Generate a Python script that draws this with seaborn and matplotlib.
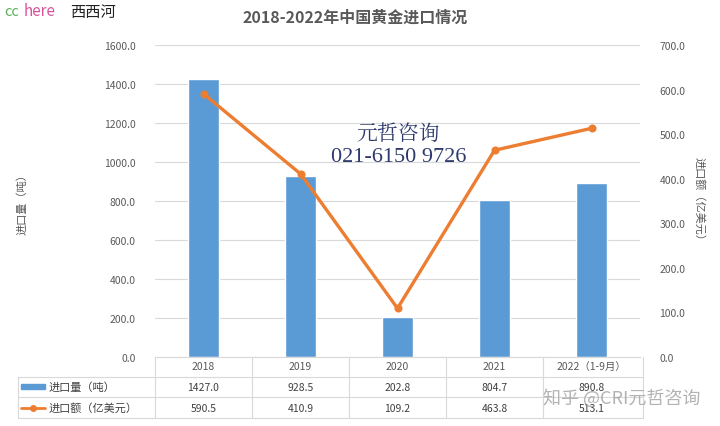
import matplotlib
matplotlib.use("Agg")
import matplotlib.pyplot as plt
import matplotlib.transforms as mtransforms
from matplotlib.lines import Line2D
from matplotlib.patches import Rectangle
import seaborn as sns

# Data
years = ["2018", "2019", "2020", "2021", "2022（1-9月）"]
volume = [1427.0, 928.5, 202.8, 804.7, 890.8]      # 进口量（吨）
value = [590.5, 410.9, 109.2, 463.8, 513.1]        # 进口额（亿美元）
row_labels = ["进口量（吨）", "进口额（亿美元）"]

sns.set_style("white")
plt.rcParams['font.family'] = ['Noto Sans CJK SC', 'DejaVu Sans']

blue = "#5B9BD5"
orange = "#ED7D31"
grey = "#595959"
line_col = "#D9D9D9"

fig = plt.figure(figsize=(7.2, 4.27), dpi=100)
ax = fig.add_axes([155 / 720, 1 - 358 / 427, 485 / 720, 312 / 427])

sns.barplot(x=years, y=volume, color=blue, width=0.31, saturation=1, ax=ax)
ax.set_ylim(0, 1600)
ax.set_yticks(range(0, 1601, 200))
ax.set_yticklabels([f"{v:.1f}" for v in range(0, 1601, 200)])
ax.yaxis.grid(True, color=line_col, linewidth=0.8)
ax.set_axisbelow(True)
ax.set_xlim(-0.5, 4.5)
ax.set_xlabel("")
ax.set_ylabel("进口量（吨）", color=grey, fontsize=8, labelpad=55)
ax.tick_params(axis="y", length=0, labelsize=7.5, labelcolor=grey, pad=14)
ax.tick_params(axis="x", length=0, labelsize=7.5, labelcolor=grey, pad=3)
for s in ["top", "right", "left"]:
    ax.spines[s].set_visible(False)
ax.spines["bottom"].set_color(line_col)

ax2 = ax.twinx()
sns.pointplot(x=years, y=value, color=orange, markers="o", markersize=4,
              linewidth=2.4, ax=ax2)
ax2.set_ylim(0, 700)
ax2.set_xlim(-0.5, 4.5)
ax2.set_yticks(range(0, 701, 100))
ax2.set_yticklabels([f"{v:.1f}" for v in range(0, 701, 100)])
ax2.tick_params(axis="y", length=0, labelsize=7.5, labelcolor=grey, pad=14)
ax2.set_ylabel("进口额（亿美元）", color=grey, fontsize=8, rotation=-90, labelpad=14)
ax2.set_xlabel("")
for s in ["top", "right", "left", "bottom"]:
    ax2.spines[s].set_visible(False)

# data table below the axes
tr = mtransforms.blended_transform_factory(ax.transData, ax.transAxes)
ta = ax.transAxes
left = (18 - 155) / 485
y_rows = [-0.064, -0.128, -0.196]
for y in y_rows:
    ax.add_line(Line2D([left, 1.006], [y, y], transform=ta, color=line_col,
                       linewidth=0.8, clip_on=False))
ax.add_line(Line2D([left, left], [y_rows[0], y_rows[-1]], transform=ta,
                   color=line_col, linewidth=0.8, clip_on=False))
for xb in [-0.5, 0.5, 1.5, 2.5, 3.5, 4.53]:
    ax.add_line(Line2D([xb, xb], [0, y_rows[-1]], transform=tr, color=line_col,
                       linewidth=0.8, clip_on=False))

for i, (v1, v2) in enumerate(zip(volume, value)):
    ax.text(i, -0.096, f"{v1:.1f}", transform=tr, ha="center", va="center",
            fontsize=7.5, color="#404040")
    ax.text(i, -0.162, f"{v2:.1f}", transform=tr, ha="center", va="center",
            fontsize=7.5, color="#404040")

# legend keys in the row labels
ax.add_patch(Rectangle((left + 0.006, -0.104), 0.05, 0.018, transform=ta,
                       color=blue, clip_on=False))
ax.add_line(Line2D([left + 0.006, left + 0.056], [-0.162, -0.162], transform=ta,
                   color=orange, linewidth=2, clip_on=False))
ax.add_line(Line2D([left + 0.031], [-0.162], transform=ta, color=orange,
                   marker="o", markersize=4, clip_on=False))
ax.text(left + 0.062, -0.096, row_labels[0], transform=ta, ha="left",
        va="center", fontsize=8, color="#404040")
ax.text(left + 0.062, -0.162, row_labels[1], transform=ta, ha="left",
        va="center", fontsize=8, color="#404040")

# title
fig.text(355 / 720, 1 - 18 / 427, "2018-2022年中国黄金进口情况", ha="center",
         va="center", fontsize=11.5, fontweight="bold", color=grey)

# watermarks
fig.text(4 / 720, 1 - 12 / 427, "cc", color="#5BAF5B", fontsize=10.5,
         va="center", ha="left")
fig.text(24 / 720, 1 - 12 / 427, "here", color="#D9539B", fontsize=11,
         va="center", ha="left")
fig.text(70 / 720, 1 - 12 / 427, "西西河", color="#222222", fontsize=11,
         va="center", ha="left")
fig.text(398 / 720, 1 - 134 / 427, "元哲咨询", color="#2E3A6E", fontsize=15,
         ha="center", va="center", family=["Noto Serif CJK SC", "Noto Sans CJK SC"])
fig.text(399 / 720, 1 - 158 / 427, "021-6150 9726", color="#2E3A6E",
         fontsize=16, ha="center", va="center", family=["Liberation Serif", "DejaVu Serif"])
fig.text(622 / 720, 1 - 398 / 427, "知乎 @CRI元哲咨询", color="#A0A0A0",
         alpha=0.8, fontsize=13, ha="center", va="center")

fig.savefig("out.png", dpi=100)
